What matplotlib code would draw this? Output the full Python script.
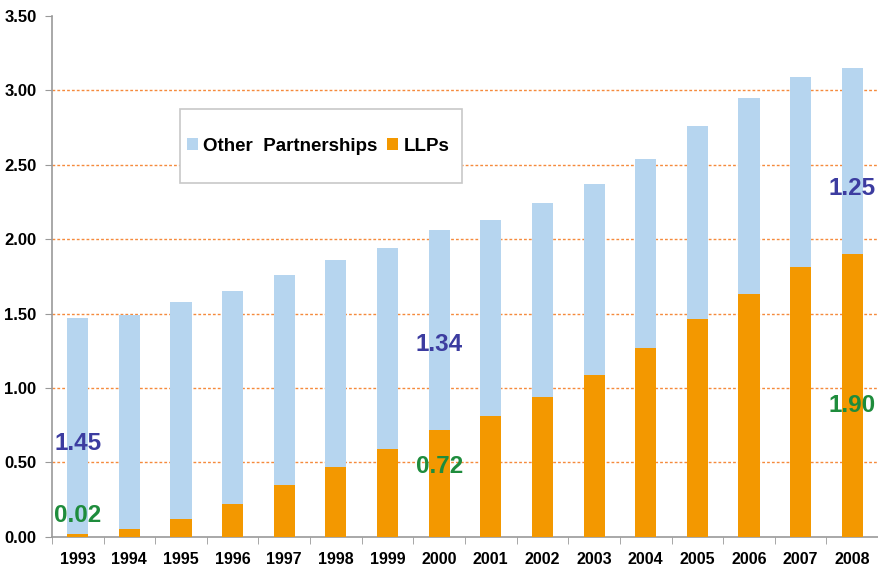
import matplotlib
matplotlib.use("Agg")
import matplotlib.pyplot as plt
from matplotlib.patches import Rectangle
import numpy as np

# ---------------- Data ---------------- #
years = [str(y) for y in range(1993, 2009)]
llps = [0.02, 0.05, 0.12, 0.22, 0.35, 0.47, 0.59, 0.72,
        0.81, 0.94, 1.09, 1.27, 1.46, 1.63, 1.81, 1.90]
totals = [1.47, 1.49, 1.58, 1.65, 1.76, 1.86, 1.94, 2.06,
          2.13, 2.24, 2.37, 2.54, 2.76, 2.95, 3.09, 3.15]
other = [round(t - l, 2) for t, l in zip(totals, llps)]

# callouts: year index, text, y position in data units
other_notes = [(0, "1.45", 0.63), (7, "1.34", 1.29), (15, "1.25", 2.34)]
llp_notes = [(0, "0.02", 0.14), (7, "0.72", 0.47), (15, "1.90", 0.88)]

# ---------------- Plot ---------------- #
plt.rcParams['font.family'] = ['Liberation Sans', 'DejaVu Sans']

fig = plt.figure(figsize=(8.79, 5.68), dpi=100)
ax = fig.add_axes([0.059, 0.055, 0.94, 0.917])

x = np.arange(len(years))
blue = "#b6d5ef"
orange = "#f39800"
ax.bar(x, llps, width=0.41, color=orange, label="LLPs", zorder=3)
ax.bar(x, other, width=0.41, bottom=llps, color=blue,
       label="Other  Partnerships", zorder=3)

ax.set_xlim(-0.5, len(years) - 0.5)
ax.set_ylim(0, 3.5)
yt = np.arange(0, 3.51, 0.5)
ax.set_yticks(yt)
ax.set_yticklabels([f"{v:.2f}" for v in yt], fontsize=12, fontweight="bold")
ax.set_xticks(x)
ax.set_xticklabels(years, fontsize=11.5, fontweight="bold")
ax.tick_params(axis="x", length=0, pad=11)
ax.set_xticks(np.arange(-0.5, len(years), 1), minor=True)
ax.tick_params(axis="x", which="minor", length=5, color="#999999")
ax.tick_params(axis="y", length=5, color="#999999", pad=6)

for v in yt[1:-1]:
    ax.axhline(v, color="#f58a3c", linestyle=(0, (2, 1.5)), linewidth=1, zorder=1)

for s in ["top", "right"]:
    ax.spines[s].set_visible(False)
for s in ["left", "bottom"]:
    ax.spines[s].set_color("#999999")
    ax.spines[s].set_linewidth(1.2)

for i, txt, y in other_notes:
    ax.text(x[i], y, txt, color="#3c3ca0", fontsize=17.5, fontweight="bold",
            ha="center", va="center", zorder=4)
for i, txt, y in llp_notes:
    ax.text(x[i], y, txt, color="#1e8c3c", fontsize=17.5, fontweight="bold",
            ha="center", va="center", zorder=4)

# legend box
ax.add_patch(Rectangle((0.155, 0.679), 0.341, 0.142, transform=ax.transAxes,
                       facecolor="white", edgecolor="#c8c8c8", linewidth=1.2,
                       zorder=5))
handles, labels = ax.get_legend_handles_labels()
leg = ax.legend(handles[::-1], labels[::-1], loc="center left",
                bbox_to_anchor=(0.163, 0.75), ncol=2, frameon=False,
                prop={"weight": "bold", "size": 13.5},
                handlelength=0.6, handleheight=0.6, handletextpad=0.3,
                columnspacing=0.5, borderpad=0, borderaxespad=0)
leg.set_zorder(6)

fig.savefig("out.png", dpi=100)
